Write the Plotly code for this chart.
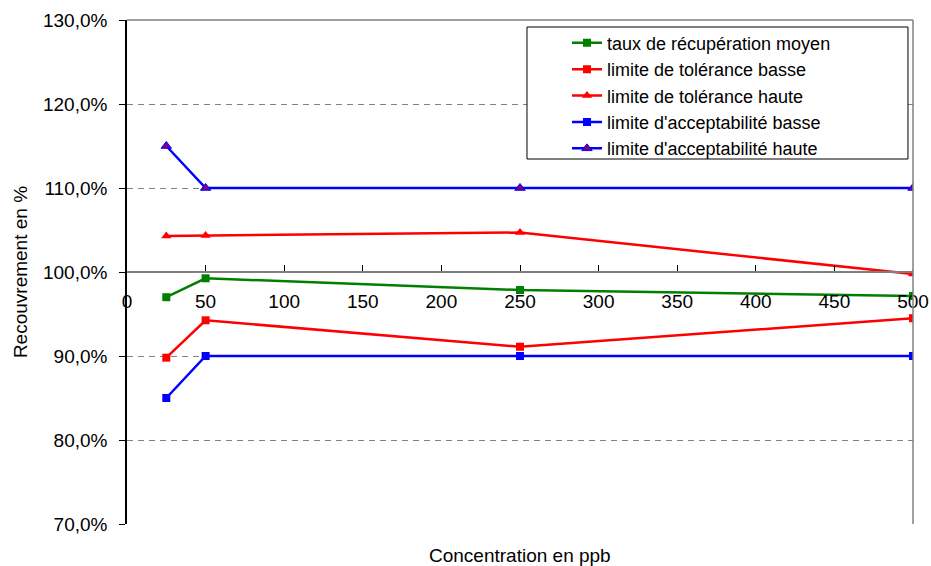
import plotly.graph_objects as go

concentration = [25, 50, 250, 500]
taux_moyen = [97.0, 99.25, 97.85, 97.15]
tol_basse = [89.8, 94.25, 91.1, 94.5]
tol_haute = [104.3, 104.35, 104.7, 99.75]
acc_basse = [85.0, 90.0, 90.0, 90.0]
acc_haute = [115.0, 110.0, 110.0, 110.0]

x_ticks = [0, 50, 100, 150, 200, 250, 300, 350, 400, 450, 500]
y_ticks = [70, 80, 90, 100, 110, 120, 130]

FONT = "Liberation Sans, Arial, sans-serif"
FS = 19

series = [
    ("taux de récupération moyen", taux_moyen, "#008000", "square", "#008000"),
    ("limite de tolérance basse", tol_basse, "#ff0000", "square", "#ff0000"),
    ("limite de tolérance haute", tol_haute, "#ff0000", "triangle-up", "#ff0000"),
    ("limite d'acceptabilité basse", acc_basse, "#0000ff", "square", "#0000ff"),
    ("limite d'acceptabilité haute", acc_haute, "#0000ff", "triangle-up", "#800080"),
]

fig = go.Figure()
for i, (name, vals, lc, sym, mc) in enumerate(series):
    fig.add_trace(go.Scatter(
        x=concentration, y=vals, name=name, mode="lines+markers",
        line=dict(color=lc, width=2.5),
        marker=dict(symbol=sym, size=8 if sym == "square" else 9, color=mc,
                    line=dict(color=lc, width=1 if mc != lc else 0)),
        legendgroup=f"g{i}",
    ))

fig.update_layout(
    template="none",
    width=931, height=566,
    margin=dict(l=127, r=18, t=20, b=42, pad=0),
    paper_bgcolor="white", plot_bgcolor="white",
    font=dict(family=FONT, size=FS, color="black"),
    separators=", ",
    showlegend=True,
    legend=dict(x=0.5598, y=0.991, xanchor="left", yanchor="top",
                borderwidth=0, bgcolor="rgba(0,0,0,0)",
                font=dict(family=FONT, size=18), tracegroupgap=0,
                traceorder="grouped", itemwidth=30),
    xaxis=dict(range=[0, 500], tickvals=x_ticks, ticktext=[str(v) for v in x_ticks],
               anchor="free", position=0.5, showline=True, linecolor="#808080",
               linewidth=1.5, ticks="inside", ticklen=6, tickcolor="black",
               showgrid=False, zeroline=False, ticklabelstandoff=12,
               automargin=False),
    yaxis=dict(range=[70, 130], tickvals=y_ticks,
               ticktext=[f"{v},0%" for v in y_ticks],
               showline=True, linecolor="black", linewidth=1.5,
               ticks="outside", ticklen=6, tickcolor="black", ticklabelstandoff=8,
               showgrid=True, gridcolor="#808080", gridwidth=1.2, griddash="6px,5px",
               zeroline=False, automargin=False),
    shapes=[
        dict(type="line", xref="paper", yref="paper", x0=0, x1=1, y0=1, y1=1,
             line=dict(color="#808080", width=1.5)),
        dict(type="line", xref="paper", yref="paper", x0=1, x1=1, y0=0, y1=1,
             line=dict(color="#808080", width=1.5)),
        dict(type="rect", xref="paper", yref="paper", layer="above",
             x0=0.5089, x1=0.9936, y0=0.7242, y1=0.9861,
             fillcolor="white", line=dict(color="black", width=1)),
    ],
    annotations=[
        dict(text="Concentration en ppb", xref="paper", yref="paper", x=0.5, y=-0.063,
             xanchor="center", yanchor="middle", showarrow=False,
             font=dict(family=FONT, size=FS)),
        dict(text="Recouvrement en %", xref="paper", yref="paper", x=-0.136, y=0.5,
             xanchor="center", yanchor="middle", textangle=-90, showarrow=False,
             font=dict(family=FONT, size=FS)),
    ],
)

fig.write_html("out.html", config={"displayModeBar": False},
               post_script="document.body.style.margin='0';document.body.style.padding='0';")
